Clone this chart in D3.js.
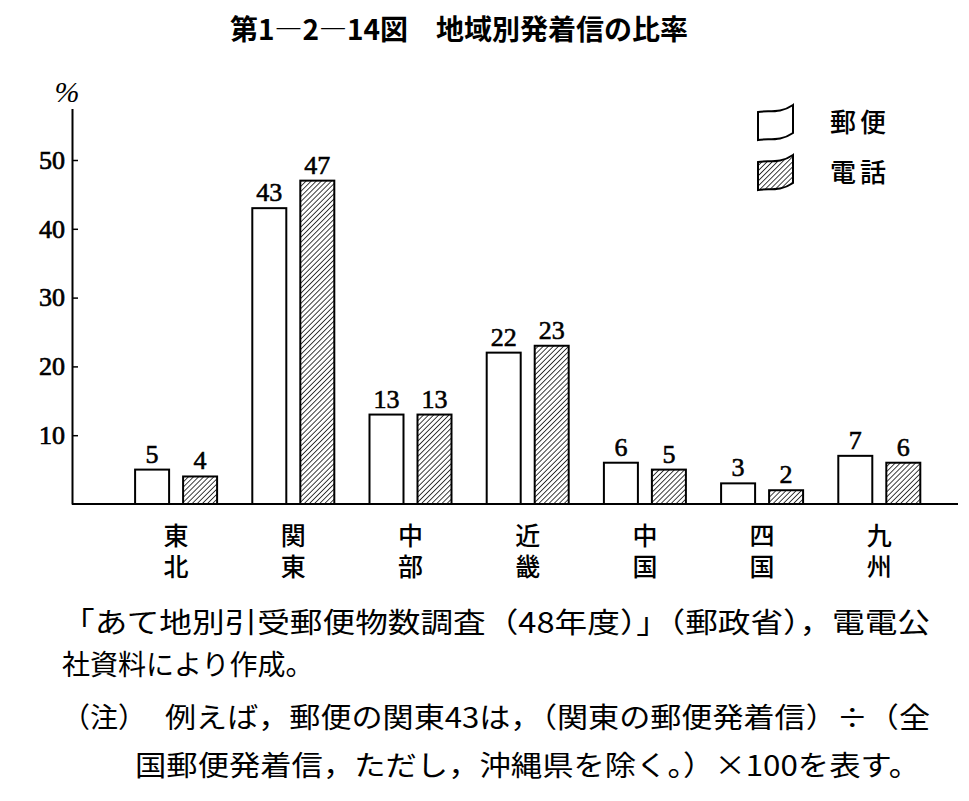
<!DOCTYPE html>
<html><head><meta charset="utf-8">
<script src="https://cdn.jsdelivr.net/npm/d3@7"></script>
<style>body{margin:0;background:#fff}svg{display:block}</style>
</head><body>
<svg id="c" width="969" height="801"></svg>
<script>
const categories = ["東北","関東","中部","近畿","中国","四国","九州"];
const seriesNames = ["郵便","電話"];
const mailValues = [5,43,13,22,6,3,7];
const phoneValues = [4,47,13,23,5,2,6];
const yTicks = [10,20,30,40,50];
const title = "第1―2―14図　地域別発着信の比率";
const notes = [
  "「あて地別引受郵便物数調査（48年度）」（郵政省），電電公",
  "社資料により作成。",
  "（注）",
  "例えば，郵便の関東43は，（関東の郵便発着信）÷（全",
  "国郵便発着信，ただし，沖縄県を除く。）×100を表す。"
];

const svg = d3.select("#c");
const jp = "'Noto Sans CJK JP', sans-serif";
const serif = "'Liberation Serif', 'DejaVu Serif', serif";

const defs = svg.append("defs");
const pat = defs.append("pattern").attr("id","hatch").attr("patternUnits","userSpaceOnUse")
  .attr("width",3.6).attr("height",3.6).attr("patternTransform","rotate(45)");
pat.append("rect").attr("width",3.6).attr("height",3.6).attr("fill","#fff");
pat.append("line").attr("x1",0).attr("y1",0).attr("x2",0).attr("y2",3.6).attr("stroke","#000").attr("stroke-width",1.5);

const axisX = 72;
const y = d3.scaleLinear().domain([0,57.5]).range([504,108.4]);
const x = d3.scaleBand().domain(categories).range([117.5,117.5+7*117.2]).padding(0);
const xs = d3.scaleBand().domain(seriesNames).range([0,82]).paddingInner(0.2917).paddingOuter(0);

// title
svg.append("text").attr("x",459).attr("y",40).attr("text-anchor","middle")
  .attr("font-family",jp).attr("font-weight",700).attr("font-size",28)
  .attr("textLength",458).attr("lengthAdjust","spacingAndGlyphs").text(title);

// y axis
const ya = svg.append("g").attr("transform",`translate(${axisX},0)`)
  .call(d3.axisLeft(y).tickValues(yTicks).tickSizeInner(-6).tickSizeOuter(0).tickPadding(7));
ya.select(".domain").attr("stroke","#000").attr("stroke-width",2);
ya.selectAll(".tick line").attr("stroke","#000").attr("stroke-width",1.5);
ya.selectAll(".tick text").attr("font-family",serif).attr("font-size",26).attr("fill","#000")
  .attr("stroke","#000").attr("stroke-width",0.7);

svg.append("text").attr("x",67).attr("y",102).attr("text-anchor","middle")
  .attr("font-family",serif).attr("font-style","italic").attr("font-size",30).text("%");

// baseline
svg.append("line").attr("x1",axisX).attr("x2",958).attr("y1",y(0)).attr("y2",y(0))
  .attr("stroke","#000").attr("stroke-width",2);

// bars
const data = categories.map((c,i)=>({c, vals:[{s:seriesNames[0],v:mailValues[i]},{s:seriesNames[1],v:phoneValues[i]}]}));
const g = svg.selectAll("g.grp").data(data).join("g").attr("class","grp")
  .attr("transform",d=>`translate(${x(d.c)+x.bandwidth()/2-41},0)`);
g.selectAll("rect").data(d=>d.vals).join("rect")
  .attr("x",d=>xs(d.s)).attr("width",xs.bandwidth())
  .attr("y",d=>y(d.v)).attr("height",d=>y(0)-y(d.v))
  .attr("fill",d=>d.s===seriesNames[0]?"#fff":"url(#hatch)")
  .attr("stroke","#000").attr("stroke-width",2);
g.selectAll("text.val").data(d=>d.vals).join("text").attr("class","val")
  .attr("x",d=>xs(d.s)+xs.bandwidth()/2).attr("y",d=>y(d.v)-7)
  .attr("text-anchor","middle").attr("font-family",serif).attr("font-size",26)
  .attr("stroke","#000").attr("stroke-width",0.6).text(d=>d.v);

// category labels (vertical text)
svg.selectAll("text.cat").data(categories).join("text").attr("class","cat")
  .attr("x",d=>x(d)+x.bandwidth()/2).attr("y",523)
  .attr("writing-mode","vertical-rl").attr("text-anchor","start")
  .attr("letter-spacing",6)
  .attr("font-family",jp).attr("font-weight",500).attr("font-size",25).text(d=>d);

// legend
const flag = "M0,7 C10,5 22,9 35,0 L35,28 C22,37 10,33 0,35 Z";
const lg = svg.selectAll("g.leg").data(seriesNames).join("g").attr("class","leg")
  .attr("transform",(d,i)=>`translate(758,${105+i*50})`);
lg.append("path").attr("d",flag).attr("fill",(d,i)=>i===0?"#fff":"url(#hatch)")
  .attr("stroke","#000").attr("stroke-width",2);
lg.append("text").attr("x",72).attr("y",27).attr("font-family",jp).attr("font-weight",500)
  .attr("font-size",26).attr("textLength",56).attr("lengthAdjust","spacing").text(d=>d);

// notes
const notePos = [
  {x:62,y:633,w:868},
  {x:62,y:675,w:null},
  {x:62,y:728,w:null},
  {x:165,y:728,w:765},
  {x:135,y:776,w:785}
];
notes.forEach((t,i)=>{
  const p = notePos[i];
  const tx = svg.append("text").attr("x",p.x).attr("y",p.y).attr("font-family",jp)
    .attr("font-size",28).text(t);
  if(p.w) tx.attr("textLength",p.w).attr("lengthAdjust","spacingAndGlyphs");
});
</script>
</body></html>
